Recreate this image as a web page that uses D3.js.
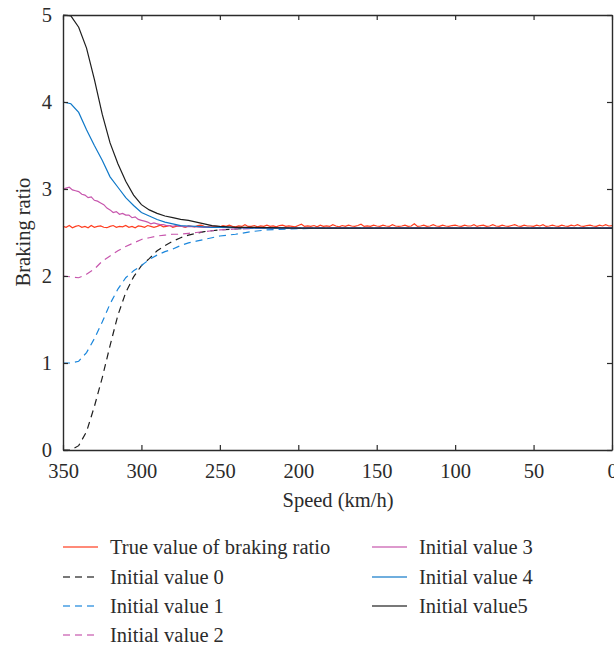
<!DOCTYPE html>
<html>
<head>
<meta charset="utf-8">
<script src="https://cdn.jsdelivr.net/npm/d3@7"></script>
<style>
  body { margin: 0; background: #fff; }
</style>
</head>
<body>
<div id="chart"></div>
<script>
// vitesses (km/h) pour les courbes lisses
var speeds = [350, 345, 340, 335, 330, 325, 320, 315, 310, 305, 300, 295, 290, 285, 280, 275, 270, 265, 260, 255, 250,
  240, 230, 220, 200, 175, 150, 125, 100, 75, 50, 25, 0];

var init0 = [0.00, 0.00, 0.05, 0.21, 0.50, 0.83, 1.20, 1.55, 1.81, 1.99, 2.12, 2.20, 2.29, 2.35, 2.40, 2.44, 2.47, 2.49, 2.51, 2.52, 2.53,
  2.54, 2.55, 2.55, 2.55, 2.55, 2.55, 2.55, 2.55, 2.55, 2.55, 2.55, 2.55];
var init1 = [1.00, 1.00, 1.02, 1.12, 1.28, 1.47, 1.68, 1.85, 1.98, 2.06, 2.12, 2.19, 2.24, 2.28, 2.31, 2.35, 2.38, 2.40, 2.42, 2.44, 2.46,
  2.48, 2.51, 2.53, 2.545, 2.55, 2.55, 2.55, 2.55, 2.55, 2.55, 2.55, 2.55];
var init2 = [2.00, 1.99, 1.98, 2.02, 2.08, 2.17, 2.23, 2.29, 2.34, 2.38, 2.42, 2.44, 2.46, 2.47, 2.48, 2.48, 2.49, 2.50, 2.51, 2.52, 2.53,
  2.54, 2.545, 2.55, 2.55, 2.55, 2.55, 2.55, 2.55, 2.55, 2.55, 2.55, 2.55];
var init4 = [4.00, 3.98, 3.88, 3.68, 3.50, 3.33, 3.14, 3.02, 2.90, 2.81, 2.73, 2.69, 2.65, 2.62, 2.60, 2.58, 2.575, 2.57, 2.565, 2.56, 2.56,
  2.555, 2.55, 2.55, 2.55, 2.55, 2.55, 2.55, 2.55, 2.55, 2.55, 2.55, 2.55];
var init5 = [5.00, 4.99, 4.86, 4.62, 4.26, 3.86, 3.53, 3.29, 3.09, 2.93, 2.82, 2.76, 2.72, 2.69, 2.67, 2.65, 2.64, 2.62, 2.60, 2.58, 2.57,
  2.56, 2.56, 2.555, 2.55, 2.55, 2.55, 2.55, 2.55, 2.55, 2.55, 2.55, 2.55];

// valeur initiale 3 : plus bruitée, pas de 2 km/h au début
var speeds3 = [350, 348, 346, 344, 342, 340, 338, 336, 334, 332, 330, 328, 326, 324, 322, 320, 318, 316, 314, 312, 310,
  308, 306, 304, 302, 300, 298, 296, 294, 292, 290, 288, 286, 284, 282, 280, 278, 276, 274, 272, 270,
  260, 250, 240, 220, 200, 150, 100, 50, 0];
var init3 = [3.00, 3.01, 3.02, 2.99, 2.98, 2.97, 2.94, 2.93, 2.90, 2.91, 2.87, 2.86, 2.84, 2.82, 2.78, 2.76, 2.73, 2.74, 2.71, 2.72, 2.70,
  2.70, 2.67, 2.68, 2.65, 2.64, 2.63, 2.62, 2.60, 2.61, 2.60, 2.59, 2.59, 2.58, 2.58, 2.57, 2.58, 2.57, 2.57, 2.565, 2.57,
  2.56, 2.56, 2.555, 2.55, 2.55, 2.55, 2.55, 2.55, 2.55];

// vraie valeur du rapport de freinage, de 350 à 0 par pas de 2 km/h
var trueValue = [
  2.57, 2.56, 2.58, 2.555, 2.57, 2.58, 2.56, 2.57, 2.555, 2.58,
  2.56, 2.57, 2.575, 2.56, 2.555, 2.57, 2.58, 2.56, 2.57, 2.565,
  2.58, 2.56, 2.57, 2.555, 2.575, 2.57, 2.56, 2.58, 2.57, 2.56,
  2.57, 2.585, 2.565, 2.57, 2.58, 2.56, 2.57, 2.575, 2.57, 2.56,
  2.575, 2.57, 2.565, 2.58, 2.585, 2.57, 2.565, 2.575, 2.57, 2.57,
  2.565, 2.58, 2.57, 2.585, 2.57, 2.565, 2.575, 2.57, 2.59, 2.57,
  2.57, 2.58, 2.565, 2.575, 2.57, 2.585, 2.57, 2.575, 2.565, 2.58,
  2.585, 2.57, 2.575, 2.57, 2.565, 2.58, 2.595, 2.57, 2.575, 2.57,
  2.58, 2.565, 2.585, 2.57, 2.575, 2.57, 2.59, 2.575, 2.565, 2.58,
  2.57, 2.585, 2.575, 2.57, 2.58, 2.595, 2.57, 2.575, 2.57, 2.585,
  2.575, 2.57, 2.585, 2.575, 2.57, 2.59, 2.575, 2.57, 2.575, 2.585,
  2.57, 2.575, 2.60, 2.57, 2.575, 2.585, 2.57, 2.575, 2.59, 2.575,
  2.57, 2.585, 2.575, 2.57, 2.58, 2.585, 2.575, 2.57, 2.585, 2.575,
  2.575, 2.59, 2.57, 2.58, 2.585, 2.57, 2.575, 2.59, 2.575, 2.57,
  2.585, 2.575, 2.57, 2.58, 2.59, 2.575, 2.57, 2.585, 2.575, 2.575,
  2.57, 2.585, 2.575, 2.59, 2.57, 2.575, 2.585, 2.575, 2.57, 2.585,
  2.575, 2.57, 2.585, 2.575, 2.59, 2.575, 2.57, 2.58, 2.585, 2.575,
  2.57, 2.585, 2.575, 2.59, 2.575, 2.58];
var trueSpeeds = trueValue.map((d, i) => 350 - 2 * i);

var xTicks = [350, 300, 250, 200, 150, 100, 50, 0];
var yTicks = [0, 1, 2, 3, 4, 5];

// séries dans l'ordre de la légende
var series = [
  { name: "True value of braking ratio", x: trueSpeeds, y: trueValue, color: "#ff3d1f", dash: null },
  { name: "Initial value 0", x: speeds, y: init0, color: "#1e1e1e", dash: "7,5" },
  { name: "Initial value 1", x: speeds, y: init1, color: "#1a86dc", dash: "7,5" },
  { name: "Initial value 2", x: speeds, y: init2, color: "#c756ad", dash: "7,5" },
  { name: "Initial value 3", x: speeds3, y: init3, color: "#c756ad", dash: null },
  { name: "Initial value 4", x: speeds, y: init4, color: "#0f78c8", dash: null },
  { name: "Initial value5", x: speeds, y: init5, color: "#1e1e1e", dash: null }
];

var FONT = "'Liberation Serif', 'DejaVu Serif', serif";
var W = 614, H = 645;
var margin = { top: 15, right: 2, bottom: 195, left: 63 };
var width = W - margin.left - margin.right;
var height = H - margin.top - margin.bottom;

var svg = d3.select("#chart").append("svg")
  .attr("width", W)
  .attr("height", H)
  .attr("font-family", FONT);

var g = svg.append("g")
  .attr("transform", "translate(" + margin.left + "," + margin.top + ")");

var x = d3.scaleLinear().domain([350, 0]).range([0, width]);
var y = d3.scaleLinear().domain([0, 5]).range([height, 0]);

var line = d3.line()
  .x(d => x(d[0]))
  .y(d => y(d[1]));

// courbes
series.forEach(s => {
  var pts = s.x.map((v, i) => [v, s.y[i]]);
  g.append("path")
    .datum(pts)
    .attr("fill", "none")
    .attr("stroke", s.color)
    .attr("stroke-width", 1.2)
    .attr("stroke-dasharray", s.dash)
    .attr("d", line);
});

// axes (ticks vers l'intérieur, sur les 4 côtés)
function styleAxis(sel) {
  sel.attr("font-family", FONT).attr("font-size", 20.5);
  sel.select(".domain").attr("stroke", "#2b2b2b").attr("stroke-width", 1.4);
  sel.selectAll(".tick line").attr("stroke", "#2b2b2b").attr("stroke-width", 1.2);
  sel.selectAll(".tick text")
    .attr("font-family", FONT)
    .attr("fill", "#2b2b2b");
}

g.append("g")
  .attr("transform", "translate(0," + height + ")")
  .call(d3.axisBottom(x).tickValues(xTicks).tickFormat(d3.format("d")).tickSize(-5).tickSizeOuter(0).tickPadding(13))
  .call(styleAxis);

g.append("g")
  .call(d3.axisTop(x).tickValues(xTicks).tickSize(-5).tickSizeOuter(0).tickFormat(""))
  .call(styleAxis);

g.append("g")
  .call(d3.axisLeft(y).tickValues(yTicks).tickFormat(d3.format("d")).tickSize(-5).tickSizeOuter(0).tickPadding(11))
  .call(styleAxis);

g.append("g")
  .attr("transform", "translate(" + width + ",0)")
  .call(d3.axisRight(y).tickValues(yTicks).tickSize(-5).tickSizeOuter(0).tickFormat(""))
  .call(styleAxis);

// titres des axes
svg.append("text")
  .attr("x", 338)
  .attr("y", 507)
  .attr("text-anchor", "middle")
  .attr("font-size", 20.5)
  .attr("fill", "#2b2b2b")
  .text("Speed (km/h)");

svg.append("text")
  .attr("transform", "translate(30,232) rotate(-90)")
  .attr("text-anchor", "middle")
  .attr("font-size", 20.5)
  .attr("fill", "#2b2b2b")
  .text("Braking ratio");

// légende : 2 colonnes
var legendCols = [{ x: 63, names: [0, 1, 2, 3] }, { x: 372, names: [4, 5, 6] }];
var rowY = [547, 577, 606, 635];

legendCols.forEach(col => {
  col.names.forEach((idx, r) => {
    var s = series[idx];
    var lg = svg.append("g").attr("transform", "translate(" + col.x + "," + rowY[r] + ")");
    lg.append("line")
      .attr("x1", 0).attr("x2", 35)
      .attr("y1", 0).attr("y2", 0)
      .attr("stroke", s.color)
      .attr("stroke-width", 1.3)
      .attr("stroke-opacity", 0.8)
      .attr("stroke-dasharray", s.dash);
    lg.append("text")
      .attr("x", 47)
      .attr("y", 0)
      .attr("dy", "0.33em")
      .attr("font-size", 20.5)
      .attr("fill", "#2b2b2b")
      .text(s.name);
  });
});
</script>
</body>
</html>
